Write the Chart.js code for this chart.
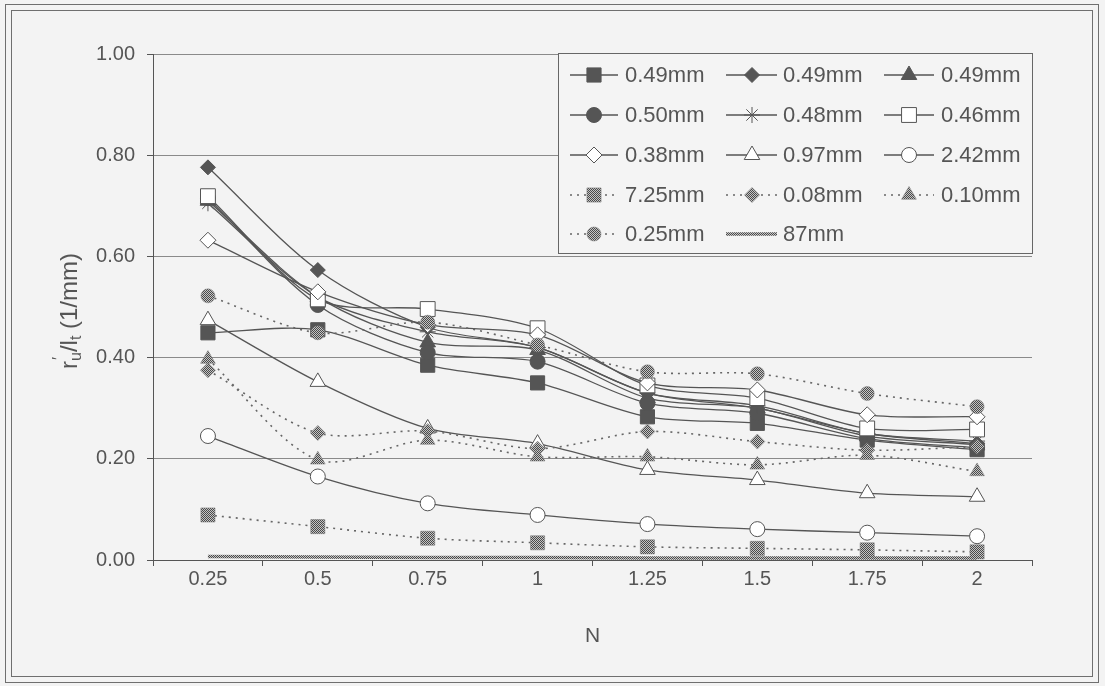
<!DOCTYPE html>
<html>
<head>
<meta charset="utf-8">
<script src="https://cdn.jsdelivr.net/npm/chart.js@4.4.0/dist/chart.umd.min.js"></script>
<style>
  html, body { margin: 0; padding: 0; background: #f3f3f3; }
  #wrap { width: 1105px; height: 686px; position: relative; }
  canvas { display: block; }
</style>
</head>
<body>
<div id="wrap"><canvas id="chart" width="1105" height="686"></canvas></div>
<script>
// N values on the x axis
const categories = ['0.25', '0.5', '0.75', '1', '1.25', '1.5', '1.75', '2'];
const yTicks = [0, 0.2, 0.4, 0.6, 0.8, 1.0];

// r'u / lt (1/mm) for each specimen size
const s049Square   = [0.449, 0.455, 0.385, 0.350, 0.283, 0.270, 0.237, 0.218];
const s049Diamond  = [0.776, 0.573, 0.460, 0.420, 0.330, 0.300, 0.250, 0.230];
const s049Triangle = [0.710, 0.520, 0.430, 0.415, 0.320, 0.300, 0.245, 0.228];
const s050Circle   = [0.715, 0.504, 0.410, 0.392, 0.310, 0.290, 0.240, 0.222];
const s048Star     = [0.705, 0.520, 0.451, 0.420, 0.330, 0.305, 0.250, 0.235];
const s046Square   = [0.719, 0.515, 0.496, 0.458, 0.345, 0.320, 0.260, 0.258];
const s038Diamond  = [0.632, 0.530, 0.465, 0.445, 0.350, 0.336, 0.287, 0.283];
const s097Triangle = [0.474, 0.352, 0.260, 0.230, 0.178, 0.158, 0.132, 0.125];
const s242Circle   = [0.245, 0.165, 0.112, 0.089, 0.071, 0.061, 0.054, 0.047];
const s725Square   = [0.089, 0.066, 0.043, 0.034, 0.026, 0.023, 0.020, 0.016];
const s008Diamond  = [0.375, 0.251, 0.255, 0.220, 0.254, 0.234, 0.217, 0.224];
const s010Triangle = [0.397, 0.198, 0.237, 0.204, 0.204, 0.188, 0.207, 0.175];
const s025Circle   = [0.522, 0.449, 0.470, 0.425, 0.372, 0.368, 0.329, 0.303];
const s87Line      = [0.007, 0.006, 0.005, 0.005, 0.004, 0.004, 0.004, 0.004];

const seriesLabels = ['0.49mm', '0.49mm', '0.49mm', '0.50mm', '0.48mm', '0.46mm',
                      '0.38mm', '0.97mm', '2.42mm', '7.25mm', '0.08mm', '0.10mm',
                      '0.25mm', '87mm'];

const INK = '#555555';
const FONT = "'Liberation Sans', Arial, sans-serif";

// fine dithered grey used for the thin-specimen markers
function makeDither() {
  const c = document.createElement('canvas');
  c.width = 2; c.height = 2;
  const g = c.getContext('2d');
  g.fillStyle = '#c4c4c4'; g.fillRect(0, 0, 2, 2);
  g.fillStyle = '#4a4a4a'; g.fillRect(0, 0, 1, 1); g.fillRect(1, 1, 1, 1);
  return document.getElementById('chart').getContext('2d').createPattern(c, 'repeat');
}
const dither = makeDither();

function solid(label, data, style, radius, filled) {
  return {
    label, data, pointStyle: style, pointRadius: radius, pointHoverRadius: radius,
    borderColor: INK, borderWidth: 1.3,
    pointBorderColor: INK, pointBorderWidth: 1,
    pointBackgroundColor: filled ? INK : '#ffffff',
    tension: 0.3, fill: false
  };
}
function dotted(label, data, style, radius) {
  return {
    label, data, pointStyle: style, pointRadius: radius, pointHoverRadius: radius,
    borderColor: '#666666', borderWidth: 1.6, borderDash: [2, 5],
    pointBorderColor: '#777777', pointBorderWidth: 0.5,
    pointBackgroundColor: dither,
    tension: 0.3, fill: false
  };
}

const datasets = [
  solid(seriesLabels[0], s049Square, 'rect', 10, true),
  solid(seriesLabels[1], s049Diamond, 'rectRot', 7.5, true),
  solid(seriesLabels[2], s049Triangle, 'triangle', 9, true),
  solid(seriesLabels[3], s050Circle, 'circle', 7.5, true),
  solid(seriesLabels[4], s048Star, 'star', 8, false),
  solid(seriesLabels[5], s046Square, 'rect', 10.5, false),
  solid(seriesLabels[6], s038Diamond, 'rectRot', 8, false),
  solid(seriesLabels[7], s097Triangle, 'triangle', 9, false),
  solid(seriesLabels[8], s242Circle, 'circle', 7.5, false),
  dotted(seriesLabels[9], s725Square, 'rect', 10),
  dotted(seriesLabels[10], s008Diamond, 'rectRot', 7.5),
  dotted(seriesLabels[11], s010Triangle, 'triangle', 8.5),
  dotted(seriesLabels[12], s025Circle, 'circle', 7),
  {
    label: seriesLabels[13], data: s87Line, pointRadius: 0, pointHoverRadius: 0,
    borderColor: dither, borderWidth: 3.5, tension: 0.3, fill: false
  }
];
// later series are painted over earlier ones
datasets.forEach((d, i) => { d.order = datasets.length - i; });

function drawMarker(ctx, ds, x, y) {
  if (!ds.pointRadius) return;
  ctx.save();
  ctx.fillStyle = ds.pointBackgroundColor;
  ctx.strokeStyle = ds.pointBorderColor;
  ctx.lineWidth = ds.pointBorderWidth;
  ctx.setLineDash([]);
  if (Chart.helpers && Chart.helpers.drawPoint) {
    Chart.helpers.drawPoint(ctx, {
      pointStyle: ds.pointStyle, radius: ds.pointRadius, rotation: 0,
      borderWidth: ds.pointBorderWidth
    }, x, y);
  } else {
    ctx.beginPath(); ctx.arc(x, y, ds.pointRadius, 0, Math.PI * 2);
    ctx.fill(); ctx.stroke();
  }
  ctx.restore();
}

// outer double frame, axis titles and the boxed three-column key
const decorations = {
  id: 'decorations',
  beforeDraw(chart) {
    const ctx = chart.ctx;
    ctx.save();
    ctx.fillStyle = '#f3f3f3';
    ctx.fillRect(0, 0, chart.width, chart.height);
    ctx.strokeStyle = '#6f6f6f';
    ctx.lineWidth = 1;
    ctx.strokeRect(5.5, 4.5, 1093, 678);
    ctx.strokeRect(11.5, 10.5, 1081, 666);
    ctx.restore();
  },
  afterDraw(chart) {
    const ctx = chart.ctx;
    const area = chart.chartArea;
    ctx.save();
    ctx.fillStyle = INK;

    // x title
    ctx.font = `21px ${FONT}`;
    ctx.textAlign = 'center';
    ctx.textBaseline = 'middle';
    ctx.fillText('N', (area.left + area.right) / 2, 636);

    // y title: r'u / lt (1/mm)
    const big = `24px ${FONT}`, small = `16px ${FONT}`;
    const pieces = [
      { t: 'r', f: big, dy: 0 },
      { t: 'u', f: small, dy: 7, prime: true },
      { t: '/l', f: big, dy: 0 },
      { t: 't', f: small, dy: 7 },
      { t: ' (1/mm)', f: big, dy: 0 }
    ];
    let total = 0;
    pieces.forEach(p => { ctx.font = p.f; p.w = ctx.measureText(p.t).width; total += p.w; });
    ctx.translate(70, (area.top + area.bottom) / 2 + 4);
    ctx.rotate(-Math.PI / 2);
    ctx.textAlign = 'left';
    ctx.textBaseline = 'middle';
    let cx = -total / 2;
    pieces.forEach(p => {
      ctx.font = p.f;
      ctx.fillText(p.t, cx, p.dy);
      if (p.prime) { ctx.font = small; ctx.fillText('\u2032', cx + 1, -10); }
      cx += p.w;
    });
    ctx.restore();

    // key
    ctx.save();
    const box = { x: 558.5, y: 53.5, w: 474, h: 200 };
    ctx.fillStyle = '#f4f4f4';
    ctx.fillRect(box.x, box.y, box.w, box.h);
    ctx.strokeStyle = '#666';
    ctx.lineWidth = 1;
    ctx.strokeRect(box.x, box.y, box.w, box.h);
    const cols = [
      { l: 570, r: 618, m: 594, t: 625 },
      { l: 726, r: 777, m: 752, t: 783 },
      { l: 884, r: 934, m: 909, t: 941 }
    ];
    const rowY = [75, 115, 155, 195, 234];
    chart.data.datasets.forEach((ds, i) => {
      const c = cols[i % 3], y = rowY[Math.floor(i / 3)];
      ctx.save();
      ctx.strokeStyle = ds.borderColor;
      ctx.lineWidth = ds.borderWidth;
      ctx.setLineDash(ds.borderDash || []);
      ctx.beginPath();
      ctx.moveTo(c.l, y); ctx.lineTo(c.r, y);
      ctx.stroke();
      ctx.restore();
      drawMarker(ctx, ds, c.m, y);
      ctx.fillStyle = INK;
      ctx.font = `22px ${FONT}`;
      ctx.textAlign = 'left';
      ctx.textBaseline = 'middle';
      ctx.fillText(ds.label, c.t, y + 1);
    });
    ctx.restore();
  }
};

new Chart(document.getElementById('chart'), {
  type: 'line',
  data: { labels: categories, datasets },
  plugins: [decorations],
  options: {
    responsive: false,
    animation: false,
    devicePixelRatio: 1,
    layout: { padding: { left: 0, top: 54, right: 73, bottom: 0 } },
    plugins: { legend: { display: false }, tooltip: { enabled: false } },
    scales: {
      x: {
        type: 'category',
        offset: true,
        afterFit(scale) { scale.height = 126; },
        grid: { display: true, drawOnChartArea: false, offset: true, tickLength: 6, color: INK },
        border: { display: true, color: INK, width: 1 },
        ticks: { color: INK, font: { family: FONT, size: 20 }, padding: 1, maxRotation: 0 }
      },
      y: {
        min: 0, max: 1,
        afterFit(scale) { scale.width = 153; },
        afterBuildTicks(scale) { scale.ticks = yTicks.map(v => ({ value: v })); },
        grid: { color: '#8a8a8a', lineWidth: 1, tickLength: 6, tickColor: INK },
        border: { display: true, color: INK, width: 1 },
        ticks: {
          color: INK, font: { family: FONT, size: 20 }, padding: 12,
          callback: v => Number(v).toFixed(2)
        }
      }
    }
  }
});
</script>
</body>
</html>
